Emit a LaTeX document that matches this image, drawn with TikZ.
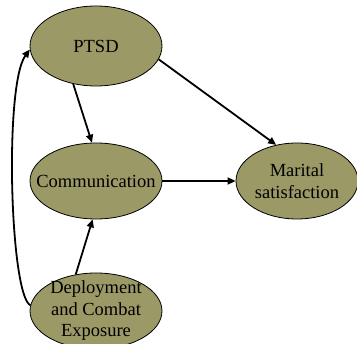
\documentclass[tikz,border=0pt]{standalone}
\usepackage{fontspec}
\setmainfont{Liberation Serif}
\usetikzlibrary{shapes.geometric,arrows.meta}
\definecolor{olivefill}{RGB}{155,153,102}
\begin{document}
\begin{tikzpicture}[x=1pt,y=-1pt,
  ell/.style={ellipse,draw=black,line width=0.8pt,fill=olivefill,inner sep=0pt},
  txt/.style={align=center,inner sep=0pt,font=\fontsize{18.5}{21.5}\selectfont},
  conn/.style={line width=1.8pt,-{Triangle[length=8pt,width=7pt]}}]
\clip (0,0) rectangle (357,344);
\node[ell,minimum width=132pt,minimum height=80pt] (ptsd) at (96,46) {};
\node[txt] (ptsdt) at (ptsd.center) {PTSD};
\node[ell,minimum width=132pt,minimum height=76pt] (comm) at (96,181) {};
\node[txt] (commt) at (comm.center) {Communication};
\node[ell,minimum width=122pt,minimum height=76pt] (mar) at (297,181) {};
\node[txt] (mart) at (mar.center) {Marital\\satisfaction};
\node[ell,minimum width=132pt,minimum height=76pt] (dep) at (96,311) {};
\node[txt] (dept) at (dep.center) {Deployment\\and Combat\\Exposure};
\draw[conn] (ptsd.239) -- (comm.96);
\draw[conn] (ptsd.348) -- (mar.120);
\draw[conn] (comm.east) -- (mar.west);
\draw[conn] (dep.119) -- (comm.265);
\draw[conn] (dep.175) .. controls (10,295) and (4,85) .. (ptsd.183);
\end{tikzpicture}
\end{document}
